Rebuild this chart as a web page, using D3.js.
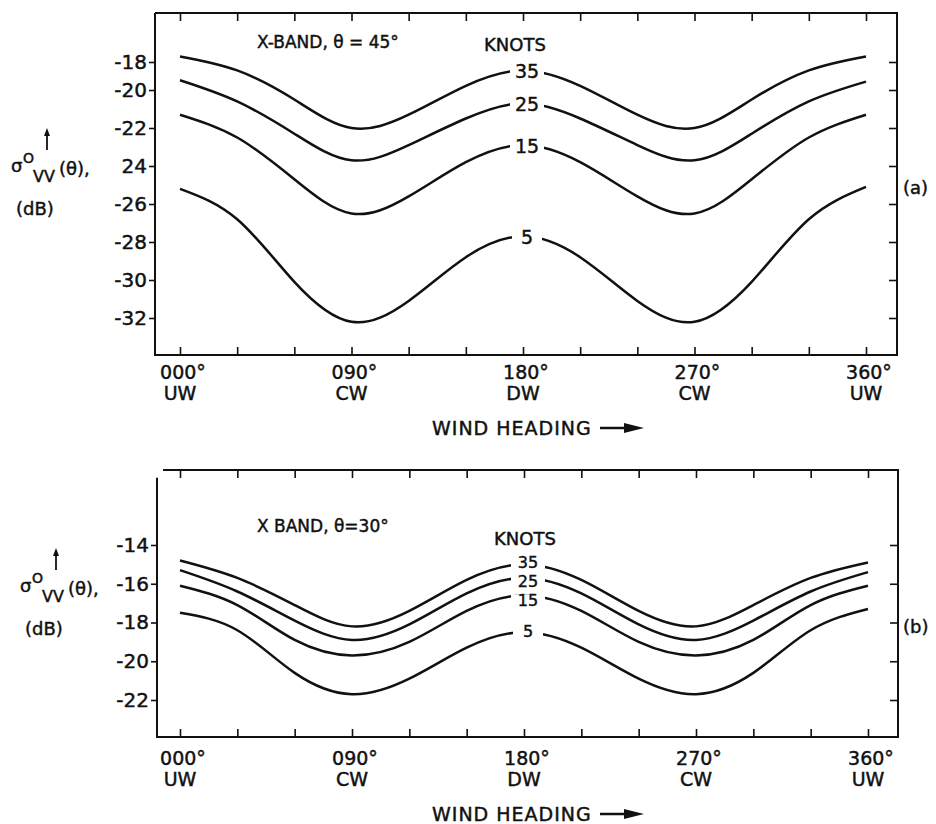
<!DOCTYPE html>
<html>
<head>
<meta charset="utf-8">
<script src="https://cdn.jsdelivr.net/npm/d3@7"></script>
<style>
body { margin: 0; background: #fff; }
text { font-family: "DejaVu Sans", sans-serif; fill: #111; stroke: #111; stroke-width: 0.45px; }
</style>
</head>
<body>
<script>
// Wind heading samples, degrees
var headings = [0, 30, 60, 90, 120, 150, 180, 210, 240, 270, 300, 330, 360];
var knots    = ["35", "25", "15", "5"];

// Panel (a): X-band, theta = 45 deg (dB)
var a35 = [-17.6, -18.6, -20.5, -22.0, -21.3, -19.7, -18.6, -19.7, -21.3, -22.0, -20.5, -18.6, -17.6];
var a25 = [-19.3, -20.6, -22.3, -23.7, -22.9, -21.5, -20.7, -21.5, -22.9, -23.7, -22.3, -20.6, -19.4];
var a15 = [-21.3, -22.5, -24.7, -26.5, -25.6, -23.8, -22.9, -23.8, -25.6, -26.5, -24.7, -22.5, -21.3];
var a5  = [-25.2, -26.8, -30.1, -32.2, -31.1, -28.8, -27.7, -28.8, -31.1, -32.2, -30.1, -26.8, -25.1];

// Panel (b): X band, theta = 30 deg (dB)
var b35 = [-14.8, -15.7, -17.1, -18.2, -17.4, -15.8, -15.0, -15.8, -17.4, -18.2, -17.1, -15.7, -14.9];
var b25 = [-15.3, -16.4, -17.9, -18.9, -18.1, -16.5, -15.7, -16.5, -18.1, -18.9, -17.9, -16.4, -15.4];
var b15 = [-16.1, -17.1, -18.9, -19.7, -19.0, -17.4, -16.6, -17.4, -19.0, -19.7, -18.9, -17.1, -16.1];
var b5  = [-17.5, -18.4, -20.6, -21.7, -20.9, -19.3, -18.5, -19.3, -20.9, -21.7, -20.6, -18.4, -17.3];

// Axis ticks and labels
var aTicks    = [-18, -20, -22, -24, -26, -28, -30, -32];
var aTickText = ["-18", "-20", "-22", "24", "-26", "-28", "-30", "-32"];
var bTicks    = [-14, -16, -18, -20, -22];
var bTickText = ["-14", "-16", "-18", "-20", "-22"];
var xTicks    = [0, 30, 60, 90, 120, 150, 180, 210, 240, 270, 300, 330, 360];
var xLabelDeg = [0, 90, 180, 270, 360];
var xLabels   = ["000°", "090°", "180°", "270°", "360°"];
var xWind     = ["UW", "CW", "DW", "CW", "UW"];

var ink = "#111";

var svg = d3.select("body").append("svg")
    .attr("width", 936)
    .attr("height", 824);

function drawPanel(p)
{
    var g = svg.append("g");
    var x = p.x, y = p.y;

    //Frame (panel b has a small break at its top left corner)
    g.append("path")
        .attr("d", "M" + (p.left + p.gap) + "," + p.top + "H" + p.right + "V" + p.bottom
              + "H" + p.left + "V" + (p.top + p.gap * 1.3))
        .attr("fill", "none").attr("stroke", ink).attr("stroke-width", 2);

    //Left axis, ticks outward
    var yl = g.append("g").attr("transform", "translate(" + p.left + ",0)")
        .call(d3.axisLeft(y).tickValues(p.ticks).tickSize(6).tickPadding(2)
              .tickFormat(function(d, i) { return p.tickText[i]; }));
    //Right axis, ticks inward
    var yr = g.append("g").attr("transform", "translate(" + p.right + ",0)")
        .call(d3.axisRight(y).tickValues(p.ticks).tickSize(-8).tickFormat(""));
    //Bottom and top ticks, inward
    var xb = g.append("g").attr("transform", "translate(0," + p.bottom + ")")
        .call(d3.axisBottom(x).tickValues(xTicks).tickSize(-8).tickFormat(""));
    var xt = g.append("g").attr("transform", "translate(0," + p.top + ")")
        .call(d3.axisTop(x).tickValues(xTicks).tickSize(-8).tickFormat(""));

    [yl, yr, xb, xt].forEach(function(a) {
        a.select(".domain").remove();
        a.selectAll("line").attr("stroke", ink).attr("stroke-width", 1.6);
    });
    yl.selectAll("text").attr("font-size", 20).attr("font-family", "DejaVu Sans").attr("fill", ink);

    //Heading labels
    xLabelDeg.forEach(function(d, i) {
        g.append("text").attr("x", x(d) + 3).attr("y", p.bottom + 24 + p.xlDy)
            .attr("text-anchor", "middle").attr("font-size", 19).text(xLabels[i]);
        g.append("text").attr("x", x(d)).attr("y", p.bottom + 45 + p.xlDy)
            .attr("text-anchor", "middle").attr("font-size", 19).text(xWind[i]);
    });

    //Wind heading caption with arrow
    var wy = p.bottom + 80 + p.xlDy;
    g.append("text").attr("x", 432).attr("y", wy).attr("font-size", 19)
        .attr("letter-spacing", 1).text("WIND HEADING");
    g.append("line").attr("x1", 600).attr("x2", 626).attr("y1", wy - 7).attr("y2", wy - 7)
        .attr("stroke", ink).attr("stroke-width", 2.5);
    g.append("path").attr("d", "M624," + (wy - 12) + "L644," + (wy - 7) + "L624," + (wy - 2) + "Z")
        .attr("fill", ink);

    //Curves
    var line = d3.line()
        .x(function(d, i) { return x(headings[i]); })
        .y(function(d) { return y(d); })
        .curve(d3.curveNatural);

    p.series.forEach(function(s) {
        g.append("path").attr("d", line(s))
            .attr("fill", "none").attr("stroke", ink).attr("stroke-width", 2.5);
    });

    //Knot labels at 180 deg, cut into the curves
    var mid = headings.indexOf(180);
    p.series.forEach(function(s, i) {
        var w = knots[i].length > 1 ? 34 : 30;
        g.append("rect").attr("x", x(180) + 4 - w / 2).attr("y", y(s[mid]) + p.labelDy[i] - 6)
            .attr("width", w).attr("height", 12).attr("fill", "#fff");
    });
    p.series.forEach(function(s, i) {
        g.append("text").attr("x", x(180) + 4).attr("y", y(s[mid]) + p.labelDy[i])
            .attr("dy", "0.36em").attr("text-anchor", "middle").attr("font-size", p.labelSize)
            .text(knots[i]);
    });

    g.append("text").attr("x", p.knotsX).attr("y", p.knotsY).attr("font-size", 18).text("KNOTS");
    g.append("text").attr("x", p.titleX).attr("y", p.titleY).attr("font-size", 17).text(p.title);
    g.append("text").attr("x", 903).attr("y", p.tagY).attr("font-size", 18).text(p.tag);

    //Y axis caption: sigma0 VV(theta), (dB)
    var c = p.cap;
    g.append("line").attr("x1", c.x + 36).attr("x2", c.x + 36).attr("y1", c.y - 22).attr("y2", c.y - 40)
        .attr("stroke", ink).attr("stroke-width", 1.8);
    g.append("path").attr("d", "M" + (c.x + 33) + "," + (c.y - 36) + "L" + (c.x + 36) + "," + (c.y - 44)
        + "L" + (c.x + 39) + "," + (c.y - 36) + "Z").attr("fill", ink);
    g.append("text").attr("x", c.x).attr("y", c.y).attr("font-size", 18).text("σ");
    g.append("text").attr("x", c.x + 12).attr("y", c.y - 9).attr("font-size", 14).text("O");
    g.append("text").attr("x", c.x + 22).attr("y", c.y + 10).attr("font-size", 16).text("VV");
    g.append("text").attr("x", c.x + 48).attr("y", c.y + 3).attr("font-size", 18).text("(θ),");
    g.append("text").attr("x", c.x + 5).attr("y", c.y + 43).attr("font-size", 18).text("(dB)");
}

drawPanel({
    left: 155, right: 897, top: 13, bottom: 355, gap: 0,
    x: d3.scaleLinear().domain([0, 360]).range([180, 866]),
    //hand drawn scale: the -18 tick sits closer to -20 than the rest
    y: d3.scaleLinear().domain([-18, -20, -32]).range([62, 90, 318]),
    ticks: aTicks, tickText: aTickText,
    series: [a35, a25, a15, a5],
    labelDy: [1, 1, 1, 1], labelSize: 19, xlDy: 0,
    title: "X-BAND, θ = 45°", titleX: 257, titleY: 48,
    knotsX: 484, knotsY: 51,
    tag: "(a)", tagY: 194,
    cap: {x: 11, y: 172}
});

drawPanel({
    left: 157, right: 898, top: 470, bottom: 737, gap: 6,
    x: d3.scaleLinear().domain([0, 360]).range([180, 868]),
    y: d3.scaleLinear().domain([-14, -22]).range([545, 700]),
    ticks: bTicks, tickText: bTickText,
    series: [b35, b25, b15, b5],
    labelDy: [-2, 3, 5, -1], labelSize: 16, xlDy: 4,
    title: "X BAND, θ=30°", titleX: 257, titleY: 532,
    knotsX: 494, knotsY: 545,
    tag: "(b)", tagY: 633,
    cap: {x: 20, y: 592}
});
</script>
</body>
</html>
